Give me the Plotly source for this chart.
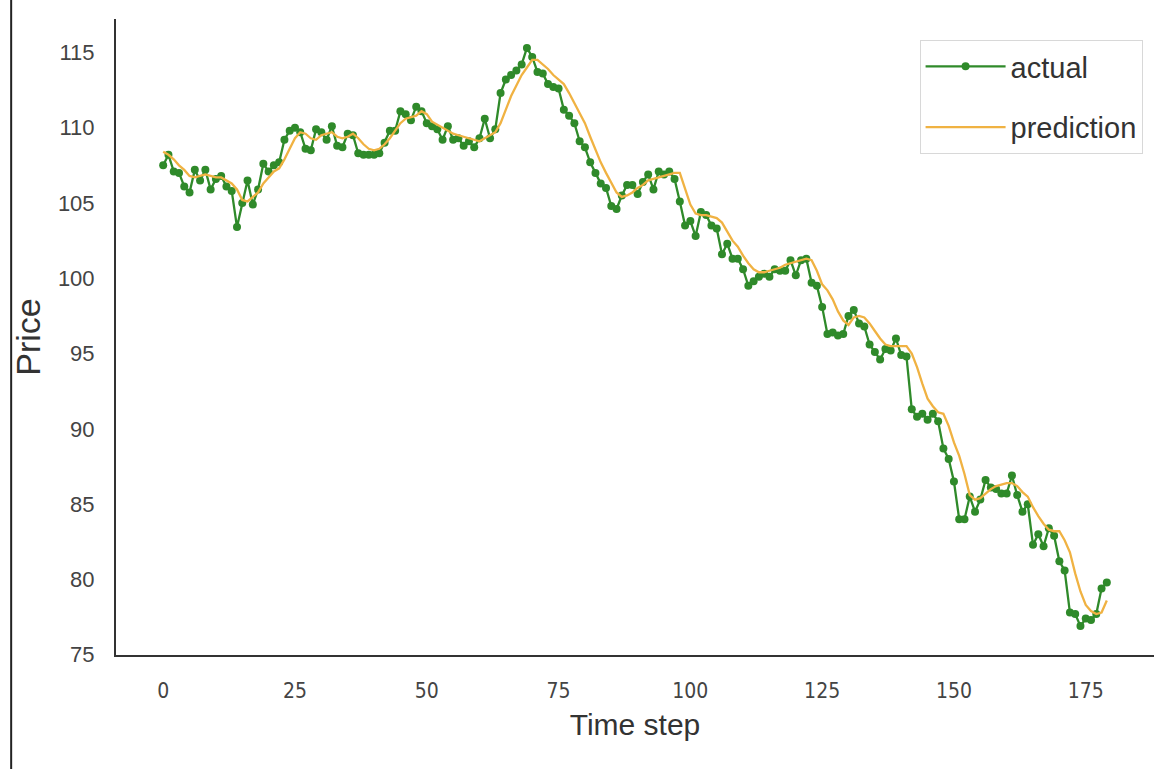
import plotly.graph_objects as go

time_step = list(range(180))

actual = [
    107.5, 108.2, 107.1, 107.0, 106.1, 105.7, 107.2, 106.5, 107.2, 105.9,
    106.6, 106.8, 106.1, 105.8, 103.4, 105.0, 106.5, 104.9, 105.9, 107.6,
    107.1, 107.5, 107.7, 109.2, 109.8, 110.0, 109.7, 108.6, 108.5, 109.9,
    109.7, 109.2, 110.1, 108.8, 108.7, 109.6, 109.5, 108.3, 108.2, 108.2,
    108.2, 108.3, 109.0, 109.8, 109.8, 111.1, 110.9, 110.5, 111.4, 111.1,
    110.3, 110.1, 109.9, 109.2, 110.1, 109.2, 109.3, 108.8, 109.1, 108.7,
    109.3, 110.6, 109.3, 109.9, 112.3, 113.2, 113.5, 113.8, 114.2, 115.3,
    114.7, 113.7, 113.6, 112.9, 112.7, 112.6, 111.2, 110.8, 110.3, 109.1,
    108.7, 107.7, 107.0, 106.3, 106.0, 104.8, 104.6, 105.5, 106.2, 106.2,
    105.6, 106.4, 106.9, 105.9, 107.1, 106.9, 107.1, 106.6, 105.1, 103.5,
    103.8, 102.8, 104.4, 104.2, 103.5, 103.3, 101.6, 102.3, 101.3, 101.3,
    100.6, 99.5, 99.8, 100.1, 100.3, 100.1, 100.6, 100.5, 100.5, 101.2,
    100.2, 101.2, 101.3, 99.7, 99.5, 98.1, 96.3, 96.4, 96.2, 96.3,
    97.5, 97.9, 97.0, 96.8, 95.6, 95.1, 94.6, 95.3, 95.2, 96.0,
    94.9, 94.8, 91.3, 90.8, 91.0, 90.6, 91.0, 90.5, 88.7, 88.0,
    86.5, 84.0, 84.0, 85.5, 84.5, 85.3, 86.6, 86.1, 86.0, 85.7,
    85.7, 86.9, 85.6, 84.5, 85.0, 82.3, 83.0, 82.2, 83.4, 82.9,
    81.2, 80.6, 77.8, 77.7, 76.9, 77.4, 77.3, 77.7, 79.4, 79.8,
]

prediction = [
    108.4, 108.2, 107.9, 107.5, 107.2, 106.8, 106.7, 106.8, 106.9, 106.8,
    106.7, 106.7, 106.5, 106.3, 105.9, 105.2, 105.1, 105.4, 105.7, 106.3,
    106.7, 107.1, 107.3, 107.9, 108.6, 109.3, 109.7, 109.6, 109.3, 109.2,
    109.5, 109.6, 109.7, 109.4, 109.3, 109.4, 109.6, 109.3, 108.9, 108.6,
    108.5, 108.6, 108.9, 109.3, 109.8, 110.3, 110.6, 110.7, 110.8, 111.1,
    110.9, 110.4, 110.2, 110.0, 109.8, 109.6, 109.5, 109.4, 109.3, 109.2,
    109.1, 109.3, 109.5, 109.7, 110.3, 111.2, 112.1, 112.8, 113.5, 114.0,
    114.5, 114.5, 114.2, 113.9, 113.5, 113.2, 112.9, 112.3, 111.6, 111.0,
    110.3, 109.4, 108.5, 107.7, 107.0, 106.3, 105.7, 105.4, 105.5, 105.7,
    106.0, 106.2, 106.5, 106.6, 106.7, 106.8, 106.9, 107.0, 107.0, 106.0,
    104.9, 104.3, 104.2, 104.2, 104.1, 104.0, 103.7, 103.1, 102.5, 102.1,
    101.5, 101.0, 100.6, 100.4, 100.4, 100.5, 100.6, 100.7, 100.9, 101.0,
    101.1, 101.2, 101.3, 101.2, 100.5, 99.6, 99.2, 98.6, 97.8, 97.2,
    96.9, 97.4, 97.5, 97.4, 97.0, 96.5, 96.0, 95.6, 95.5, 95.5,
    95.5, 95.5, 95.0, 94.1, 93.0, 92.0, 91.5, 91.1, 91.0, 90.2,
    89.1, 88.2, 87.0, 85.6, 85.3, 85.4, 85.7, 86.0, 86.2, 86.3,
    86.4, 86.4, 86.2, 85.8, 85.5, 84.8, 84.2, 83.7, 83.3, 83.2,
    83.2, 82.6, 81.8, 80.4, 79.2, 78.3, 77.9, 77.7, 77.8, 78.6,
]

x_ticks = [0, 25, 50, 75, 100, 125, 150, 175]
y_ticks = [75, 80, 85, 90, 95, 100, 105, 110, 115]

GREEN = "#2f8a2a"
ORANGE = "rgb(240,178,66)"
FONT = "Liberation Sans, Arial, sans-serif"
NARROW = "Liberation Sans Narrow, DejaVu Sans Condensed, Liberation Sans, sans-serif"

fig = go.Figure()
fig.add_trace(go.Scatter(
    x=time_step, y=actual, name="actual", mode="lines+markers",
    legendgroup="a",
    line=dict(color=GREEN, width=2.3),
    marker=dict(color=GREEN, size=8),
))
fig.add_trace(go.Scatter(
    x=time_step, y=prediction, name="prediction", mode="lines",
    legendgroup="p",
    line=dict(color=ORANGE, width=2.3),
))

fig.update_layout(
    width=1156, height=769,
    margin=dict(l=116, r=2, t=19, b=114),
    paper_bgcolor="white", plot_bgcolor="white",
    font=dict(family=FONT, color="#444444", size=18),
    showlegend=True,
    legend=dict(
        x=0.989, y=0.967, xanchor="right", yanchor="top",
        bgcolor="white", bordercolor="#d8d8d8", borderwidth=1,
        font=dict(size=29, color="#333333", family=FONT),
        itemwidth=80, tracegroupgap=20,
    ),
    xaxis=dict(
        range=[-8.95, 187.95], tickvals=x_ticks,
        ticks="outside", ticklen=16, tickcolor="rgba(0,0,0,0)",
        showgrid=False, zeroline=False,
        showline=True, linecolor="#333333", linewidth=2,
        title=dict(text="Time step", font=dict(size=30, color="#333333"), standoff=12),
        tickfont=dict(size=21, color="#444444", family=NARROW),
    ),
    yaxis=dict(
        range=[74.98, 117.22], tickvals=y_ticks,
        ticks="outside", ticklen=15, tickcolor="rgba(0,0,0,0)",
        showgrid=False, zeroline=False,
        showline=True, linecolor="#333333", linewidth=2,
        title=dict(text="Price", font=dict(size=34, color="#333333"), standoff=7),
        tickfont=dict(size=22, color="#444444"),
    ),
    shapes=[dict(
        type="line", xref="paper", yref="paper",
        x0=-0.101, x1=-0.101, y0=-0.19, y1=1.04,
        line=dict(color="#222222", width=2),
    )],
)

fig.write_html("out.html", config={"displayModeBar": False},
               post_script="document.body.style.margin='0';")
